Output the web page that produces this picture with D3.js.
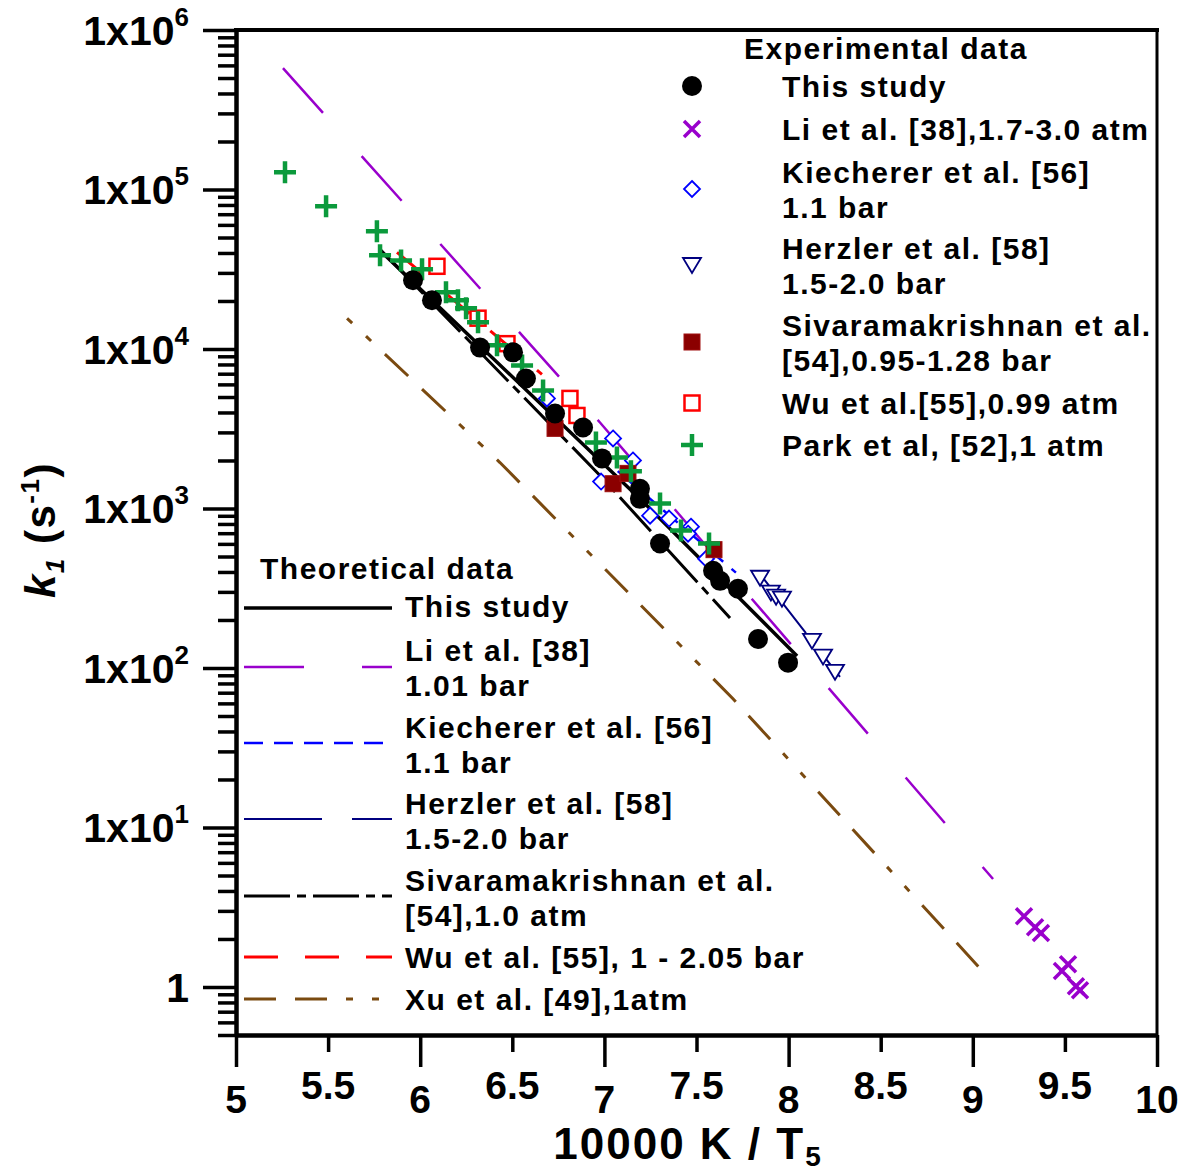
<!DOCTYPE html>
<html><head><meta charset="utf-8">
<script src="https://cdn.jsdelivr.net/npm/d3@7"></script>
<style>
body{margin:0;background:#fff}
text{font-family:"Liberation Sans",Arial,sans-serif;font-weight:bold;fill:#000}
</style>
</head><body>
<svg id="c" width="1185" height="1174"></svg>
<script>
// ---------- data (10000 K / T5 , k1 in s^-1) ----------
const thisStudyT = [5.961, 6.064, 6.325, 6.504, 6.574, 6.732, 6.884, 6.987, 7.193, 7.193, 7.302, 7.590, 7.628, 7.725, 7.834, 7.997];
const thisStudyK = [27000, 20200, 10200, 9530, 6530, 3940, 3220, 2060, 1330, 1150, 603, 407, 352, 314, 152, 108];
const liT = [9.278, 9.338, 9.370, 9.484, 9.517, 9.560, 9.582];
const liK = [2.78, 2.37, 2.18, 1.26, 1.39, 1.01, 0.955];
const kiechT = [6.688, 7.047, 7.155, 6.982, 7.248, 7.351, 7.470, 7.454, 7.552];
const kiechK = [4900, 2750, 2000, 1476, 902, 865, 769, 695, 484];
const herzT = [7.845, 7.904, 7.932, 7.964, 8.127, 8.187, 8.252];
const herzK = [368, 297, 280, 272, 148, 118, 94.6];
const sivaT = [6.732, 7.047, 7.128, 7.595];
const sivaK = [3180, 1430, 1660, 552];
const wuT = [6.091, 6.314, 6.471, 6.813, 6.851];
const wuK = [33000, 15600, 10800, 4900, 3830];
const parkT = [5.266, 5.489, 5.765, 5.782, 5.896, 6.010, 6.140, 6.205, 6.249, 6.314, 6.417, 6.553, 6.667, 6.954, 7.068, 7.144, 7.302, 7.416, 7.568];
const parkK = [128500, 78500, 54700, 38700, 35900, 31600, 22700, 20200, 18000, 14700, 10540, 7890, 5500, 2590, 2090, 1710, 1075, 727, 603];

// theoretical curves
const thStudyT = [5.803, 7.193, 8.046];
const thStudyK = [39300, 1153, 119];
const thLiT = [5.255, 6.976, 9.110];
const thLiK = [577000, 3460, 4.75];
const thKiechT = [6.949, 7.714];
const thKiechK = [2275, 396];
const thHerzT = [7.834, 8.279];
const thHerzK = [402, 88];
const thSivaT = [5.782, 6.976, 7.682];
const thSivaK = [42200, 1610, 206];
const thWuT = [5.874, 6.661];
const thWuK = [40400, 6930];
const thXuT = [5.603, 6.433, 7.698, 9.093];
const thXuK = [15560, 1941, 64.2, 1.12];

// axes ticks
const xMajor = [5, 6, 7, 8, 9, 10];
const xMinor = [5.5, 6.5, 7.5, 8.5, 9.5];
const yMajor = [1, 10, 100, 1e3, 1e4, 1e5, 1e6];
const yExp = ["", "1", "2", "3", "4", "5", "6"];

// legends
const expLegend = [
  {lines: ["This study"], ty: 97, my: 86, m: "circle"},
  {lines: ["Li et al. [38],1.7-3.0 atm"], ty: 140, my: 129, m: "x"},
  {lines: ["Kiecherer et al. [56]", "1.1 bar"], ty: 183, my: 189, m: "diamond"},
  {lines: ["Herzler et al. [58]", "1.5-2.0 bar"], ty: 259, my: 265, m: "tri"},
  {lines: ["Sivaramakrishnan et al.", "[54],0.95-1.28 bar"], ty: 336, my: 342, m: "fsq"},
  {lines: ["Wu et al.[55],0.99 atm"], ty: 414, my: 403, m: "osq"},
  {lines: ["Park et al, [52],1 atm"], ty: 456, my: 445, m: "plus"}
];
const theoLegend = [
  {lines: ["This study"], ty: 617, ly: 608, key: "study"},
  {lines: ["Li et al. [38]", "1.01 bar"], ty: 661, ly: 667, key: "li"},
  {lines: ["Kiecherer et al. [56]", "1.1 bar"], ty: 738, ly: 743, key: "kiech"},
  {lines: ["Herzler et al. [58]", "1.5-2.0 bar"], ty: 814, ly: 819, key: "herz"},
  {lines: ["Sivaramakrishnan et al.", "[54],1.0 atm"], ty: 891, ly: 896, key: "siva"},
  {lines: ["Wu et al. [55], 1 - 2.05 bar"], ty: 968, ly: 957, key: "wu"},
  {lines: ["Xu et al. [49],1atm"], ty: 1010, ly: 999, key: "xu"}
];

// ---------- styles ----------
const lineStyle = {
  study: {c: "#000000", w: 3.5, d: null, lo: 0},
  li: {c: "#9900cc", w: 2.5, d: "60,58", lo: 0},
  kiech: {c: "#0000ff", w: 2.5, d: "19,11", lo: 0},
  herz: {c: "#000080", w: 2, d: "78,30", lo: 0},
  siva: {c: "#000000", w: 3, d: "46,7,9,7", lo: 0},
  wu: {c: "#ff0000", w: 3, d: "34,27", lo: 0},
  xu: {c: "#7a4a10", w: 3, d: "7,19,7,19,32,19,32,19", lo: 52}
};

const svg = d3.select("#c");
const x = d3.scaleLinear().domain([5, 10]).range([236, 1157]);
const y = d3.scaleLog().domain([0.5, 1e6]).range([1035, 30]);

// ---------- theoretical lines ----------
const line = d3.line().x(d => x(d[0])).y(d => y(d[1]));
const curves = [
  ["xu", thXuT, thXuK], ["li", thLiT, thLiK], ["kiech", thKiechT, thKiechK],
  ["herz", thHerzT, thHerzK], ["siva", thSivaT, thSivaK], ["wu", thWuT, thWuK],
  ["study", thStudyT, thStudyK]
];
curves.forEach(([k, T, K]) => {
  const s = lineStyle[k];
  svg.append("path").attr("d", line(T.map((t, i) => [t, K[i]])))
    .attr("fill", "none").attr("stroke", s.c).attr("stroke-width", s.w)
    .attr("stroke-dasharray", s.d);
});

// ---------- markers ----------
function marker(g, type, cx, cy) {
  if (type === "circle") {
    g.append("circle").attr("cx", cx).attr("cy", cy).attr("r", 10).attr("fill", "#000");
  } else if (type === "x") {
    g.append("path").attr("d", `M${cx-8},${cy-8}L${cx+8},${cy+8}M${cx-8},${cy+8}L${cx+8},${cy-8}`)
      .attr("stroke", "#9900cc").attr("stroke-width", 3.5).attr("fill", "none");
  } else if (type === "diamond") {
    g.append("path").attr("d", `M${cx},${cy-8}L${cx+8},${cy}L${cx},${cy+8}L${cx-8},${cy}Z`)
      .attr("stroke", "#0000ff").attr("stroke-width", 1.8).attr("fill", "#fff");
  } else if (type === "tri") {
    g.append("path").attr("d", `M${cx-9},${cy-7}L${cx+9},${cy-7}L${cx},${cy+8}Z`)
      .attr("stroke", "#000080").attr("stroke-width", 1.8).attr("fill", "#fff");
  } else if (type === "fsq") {
    g.append("rect").attr("x", cx-8).attr("y", cy-8).attr("width", 16).attr("height", 16)
      .attr("fill", "#8b0000").attr("stroke", "#a01010").attr("stroke-width", 1);
  } else if (type === "osq") {
    g.append("rect").attr("x", cx-7.5).attr("y", cy-7.5).attr("width", 15).attr("height", 15)
      .attr("fill", "none").attr("stroke", "#ff0000").attr("stroke-width", 2.5);
  } else if (type === "plus") {
    g.append("path").attr("d", `M${cx-11},${cy}L${cx+11},${cy}M${cx},${cy-11}L${cx},${cy+11}`)
      .attr("stroke", "#0b9a3c").attr("stroke-width", 4.5).attr("fill", "none");
  }
}
const mg = svg.append("g");
const series = [
  ["diamond", kiechT, kiechK], ["fsq", sivaT, sivaK], ["osq", wuT, wuK],
  ["plus", parkT, parkK], ["tri", herzT, herzK], ["x", liT, liK],
  ["circle", thisStudyT, thisStudyK]
];
series.forEach(([m, T, K]) => T.forEach((t, i) => marker(mg, m, x(t), y(K[i]))));

// ---------- axes ----------
const yAx = svg.append("g").attr("transform", "translate(236,0)")
  .call(d3.axisLeft(y).tickValues(yMajor).tickSize(33).tickSizeOuter(0).tickFormat(""));
const yMinor = y.ticks().filter(v => !yMajor.includes(v));
const yAx2 = svg.append("g").attr("transform", "translate(236,0)")
  .call(d3.axisLeft(y).tickValues(yMinor).tickSize(18).tickSizeOuter(0).tickFormat(""));
const xAx = svg.append("g").attr("transform", "translate(0,1035)")
  .call(d3.axisBottom(x).tickValues(xMajor).tickSize(32).tickSizeOuter(0).tickFormat(""));
const xAx2 = svg.append("g").attr("transform", "translate(0,1035)")
  .call(d3.axisBottom(x).tickValues(xMinor).tickSize(17).tickSizeOuter(0).tickFormat(""));
[yAx, yAx2, xAx, xAx2].forEach(g => {
  g.selectAll(".domain").attr("stroke", "#000").attr("stroke-width", 4);
  g.selectAll(".tick line").attr("stroke", "#000").attr("stroke-width", 3.5);
});
// frame top & right
svg.append("line").attr("x1", 234).attr("x2", 1159).attr("y1", 30).attr("y2", 30).attr("stroke", "#000").attr("stroke-width", 4);
svg.append("line").attr("x1", 1157).attr("x2", 1157).attr("y1", 30).attr("y2", 1035).attr("stroke", "#000").attr("stroke-width", 3);

// y tick labels
yMajor.forEach((v, i) => {
  const t = svg.append("text").attr("x", 189).attr("y", y(v) + 15)
    .attr("text-anchor", "end").style("font-size", "41px");
  if (yExp[i] === "") { t.text("1"); }
  else {
    t.append("tspan").text("1x10");
    t.append("tspan").attr("dy", -19).style("font-size", "26px").text(yExp[i]);
  }
});
// x tick labels
xMajor.forEach(v => svg.append("text").attr("x", x(v)).attr("y", 1113)
  .attr("text-anchor", "middle").style("font-size", "39px").text(v));
xMinor.forEach(v => svg.append("text").attr("x", x(v)).attr("y", 1099)
  .attr("text-anchor", "middle").style("font-size", "39px").text(v));

// axis titles
const xt = svg.append("text").attr("x", 688).attr("y", 1159).attr("text-anchor", "middle")
  .style("font-size", "44px").style("letter-spacing", "2px");
xt.append("tspan").text("10000 K / T");
xt.append("tspan").attr("dy", 7).style("font-size", "28px").text("5");

const yt = svg.append("text").attr("transform", "translate(55,530) rotate(-90)")
  .attr("text-anchor", "middle").style("font-size", "42px").style("letter-spacing", "1.5px");
yt.append("tspan").style("font-style", "italic").text("k");
yt.append("tspan").attr("dy", 9).style("font-size", "26px").style("font-style", "italic").text("1");
yt.append("tspan").attr("dy", -9).text(" (s");
yt.append("tspan").attr("dy", -16).style("font-size", "26px").text("-1");
yt.append("tspan").attr("dy", 16).text(")");

// ---------- legends ----------
function ltext(tx, ty, s) {
  return svg.append("text").attr("x", tx).attr("y", ty)
    .style("font-size", "30px").style("letter-spacing", "1.5px").text(s);
}
ltext(744, 59, "Experimental data");
expLegend.forEach(r => {
  marker(svg, r.m, 692, r.my);
  r.lines.forEach((s, j) => ltext(782, r.ty + j * 35, s));
});
ltext(260, 579, "Theoretical data");
theoLegend.forEach(r => {
  const s = lineStyle[r.key];
  svg.append("line").attr("x1", 244).attr("x2", 392).attr("y1", r.ly).attr("y2", r.ly)
    .attr("stroke", s.c).attr("stroke-width", s.w).attr("stroke-dasharray", s.d)
    .attr("stroke-dashoffset", s.lo);
  r.lines.forEach((t, j) => ltext(405, r.ty + j * 35, t));
});
</script>
</body></html>
